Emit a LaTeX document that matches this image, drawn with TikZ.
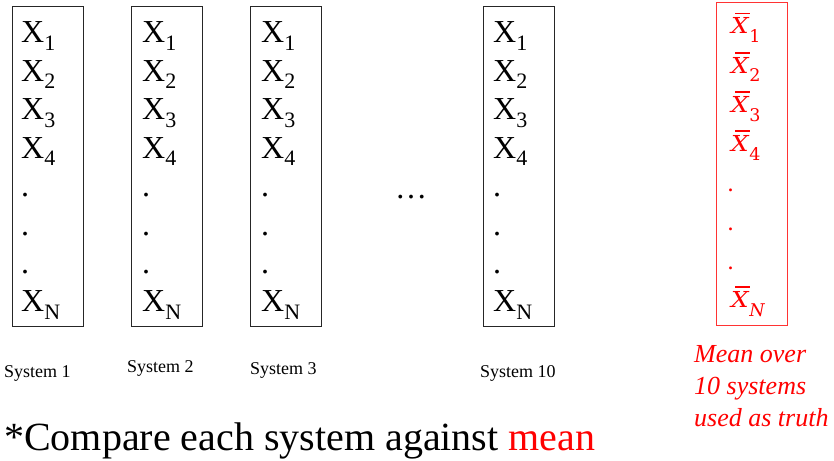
\documentclass[tikz,border=0pt]{standalone}
\usepackage{fontspec}
\setmainfont{Liberation Serif}
\newfontfamily\meanfont{DejaVu Serif}
\definecolor{truered}{RGB}{255,0,0}
% X with a lowered upright subscript, as in the system columns
\newcommand\Xs[1]{X\raisebox{-7.5pt}{\fontsize{22}{22}\selectfont #1}}
% mean value: italic X with a bar and a lowered subscript
\newcommand\Xm[1]{\scalebox{1.12}[1]{\itshape X}\llap{\raisebox{19.5pt}{\rule{15pt}{1.5pt}}\hspace{-1.5pt}}%
  \hspace{0.5pt}\raisebox{-9pt}{\fontsize{17.5}{17.5}\selectfont #1}}
\tikzset{
  sysbox/.style={draw=black!85, line width=0.9pt, minimum width=71pt,
                 minimum height=320pt, inner sep=0pt},
  meanbox/.style={draw=truered!80, line width=0.9pt, minimum width=71pt,
                  minimum height=323pt, inner sep=0pt},
  entry/.style={anchor=base west, inner sep=0pt, font=\fontsize{32}{32}\selectfont},
  mentry/.style={anchor=base west, inner sep=0pt, text=truered,
                 font=\meanfont\fontsize{22}{22}\selectfont},
  syslabel/.style={anchor=base west, inner sep=0pt, font=\fontsize{18}{18}\selectfont},
  note/.style={anchor=base west, inner sep=0pt, text=truered,
               font=\itshape\fontsize{26}{26}\selectfont},
  headline/.style={anchor=base west, inner sep=0pt, font=\fontsize{40}{40}\selectfont}
}
\begin{document}
\begin{tikzpicture}[x=1pt,y=-1pt]
\useasboundingbox (0,0) rectangle (834,460);

% system columns
\node[sysbox] (b1) at (47.5,166) {};
\node[sysbox] (b2) at (166.5,166) {};
\node[sysbox] (b3) at (286,166) {};
\node[sysbox] (b4) at (518.5,166) {};

\foreach \bx/\xl in {b1/21, b2/142, b3/261, b4/493}{
  \foreach \lab [count=\k from 0] in {\Xs{1},\Xs{2},\Xs{3},\Xs{4},.,.,.,\Xs{N}}{
    \node[entry] (\bx-\k) at (\xl,{43+38.4*\k}) {\lab};
  }
}

\node[entry] (gap) at (395,198) {\ldots};

% column of means
\node[meanbox] (avg) at (751.5,163.5) {};
\foreach \k/\s in {0/1,1/2,2/3,3/4,7/\textit{N}}{
  \node[mentry] (avg-\k) at (731,{34+39*\k}) {\Xm{\s}};
}
\foreach \k in {4,5,6}{
  \node[mentry] (avg-\k) at (727,{35+39*\k}) {.};
}

% labels under the columns
\node[syslabel] (l1) at (4,377) {System 1};
\node[syslabel] (l2) at (127,372) {System 2};
\node[syslabel] (l3) at (250,374) {System 3};
\node[syslabel] (l4) at (480,377) {System 10};

\node[note] (n1) at (694,362) {Mean over};
\node[note] (n2) at (694,394) {10 systems};
\node[note] (n3) at (694,426) {used as truth};

\node[headline] (cmp) at (4,450) {*Compare each system against \textcolor{truered}{mean}};
\end{tikzpicture}
\end{document}
